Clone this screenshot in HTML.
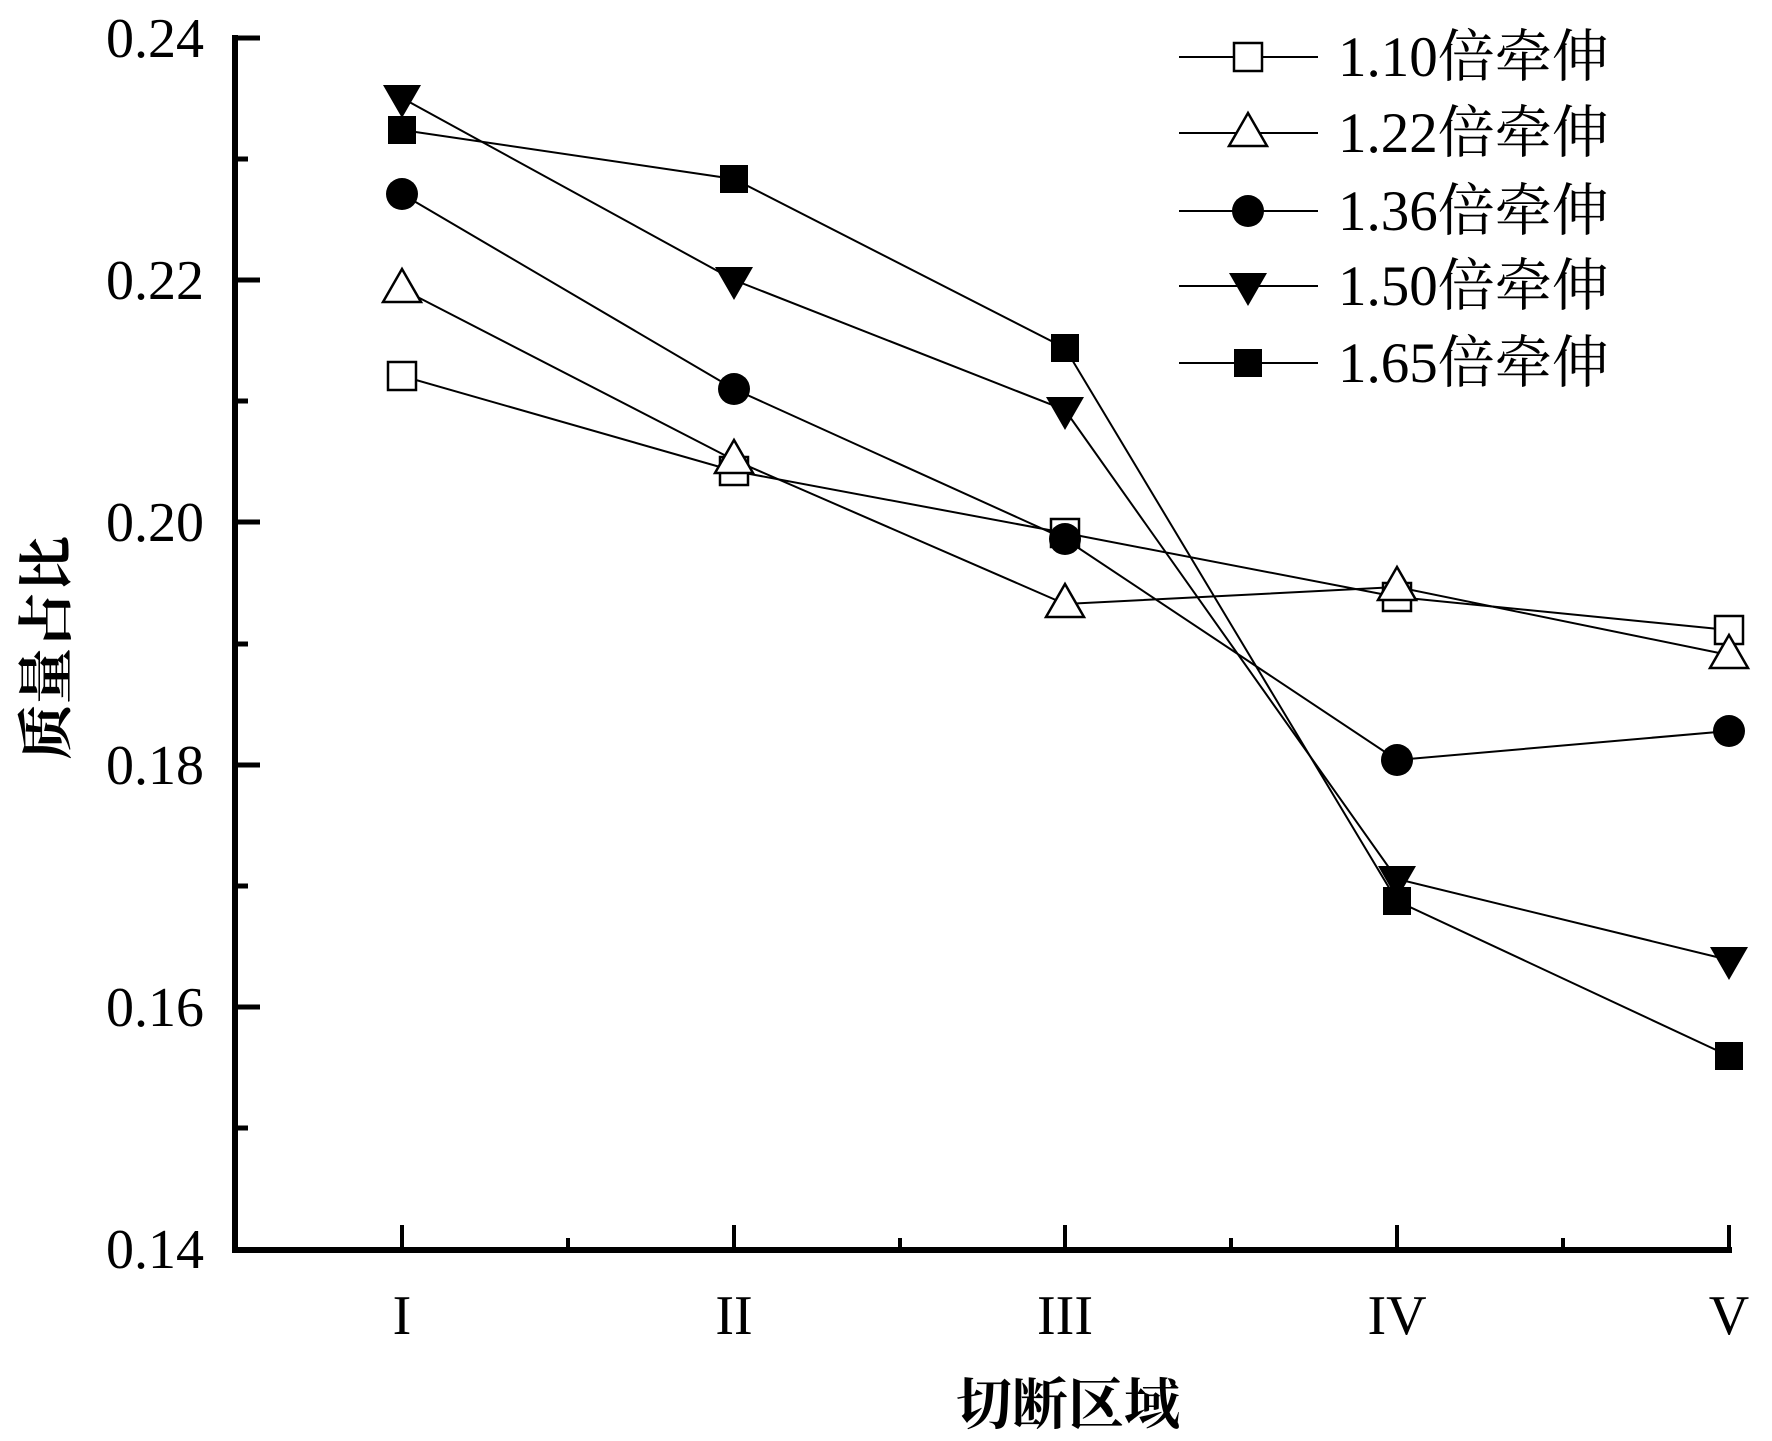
<!DOCTYPE html>
<html><head><meta charset="utf-8"><style>
html,body{margin:0;padding:0;background:#fff}
svg{display:block}
text{font-family:"Liberation Serif","Noto Serif CJK SC",serif;fill:#000}
</style></head><body>
<svg width="1772" height="1441" viewBox="0 0 1772 1441" xmlns="http://www.w3.org/2000/svg">
<defs>
<rect id="sq" x="-14" y="-14" width="28" height="28"/>
<polygon id="tu" points="0,-20 -19,13 19,13"/>
<polygon id="td" points="-19,-13 19,-13 0,20"/>
</defs>
<g stroke="#000" fill="none">
<line x1="235" y1="35" x2="235" y2="1253" stroke-width="6"/>
<line x1="232" y1="1250" x2="1732" y2="1250" stroke-width="6"/>
<g stroke-width="5">
<line x1="235" y1="38" x2="260" y2="38"/>
<line x1="235" y1="280" x2="260" y2="280"/>
<line x1="235" y1="522" x2="260" y2="522"/>
<line x1="235" y1="765" x2="260" y2="765"/>
<line x1="235" y1="1007" x2="260" y2="1007"/>
<line x1="235" y1="159" x2="248" y2="159"/>
<line x1="235" y1="401" x2="248" y2="401"/>
<line x1="235" y1="644" x2="248" y2="644"/>
<line x1="235" y1="886" x2="248" y2="886"/>
<line x1="235" y1="1128" x2="248" y2="1128"/>
</g>
<g stroke-width="4">
<line x1="402" y1="1250" x2="402" y2="1225"/>
<line x1="734" y1="1250" x2="734" y2="1225"/>
<line x1="1065" y1="1250" x2="1065" y2="1225"/>
<line x1="1397" y1="1250" x2="1397" y2="1225"/>
<line x1="1729" y1="1250" x2="1729" y2="1225"/>
<line x1="568" y1="1250" x2="568" y2="1238"/>
<line x1="900" y1="1250" x2="900" y2="1238"/>
<line x1="1231" y1="1250" x2="1231" y2="1238"/>
<line x1="1563" y1="1250" x2="1563" y2="1238"/>
</g>
</g>
<g font-size="56" text-anchor="end">
<text x="204" y="57">0.24</text>
<text x="204" y="299">0.22</text>
<text x="204" y="541">0.20</text>
<text x="204" y="784">0.18</text>
<text x="204" y="1026">0.16</text>
<text x="204" y="1268">0.14</text>
</g>
<g font-size="56" text-anchor="middle">
<text x="402" y="1334">I</text>
<text x="734" y="1334">II</text>
<text x="1065" y="1334">III</text>
<text x="1397" y="1334">IV</text>
<text x="1729" y="1334">V</text>
</g>
<text x="1068" y="1424" font-size="56" font-weight="bold" text-anchor="middle">切断区域</text>
<text transform="translate(66,648) rotate(-90)" font-size="56" font-weight="bold" text-anchor="middle">质量占比</text>
<g stroke="#000" stroke-width="2" fill="none">
<polyline points="402,376 734,471 1065,533 1397,597 1729,630"/>
<polyline points="402,289 734,460 1065,604 1397,587 1729,655"/>
<polyline points="402,194 734,389 1065,539 1397,760 1729,731"/>
<polyline points="402,98 734,280 1065,410 1397,879 1729,960"/>
<polyline points="402,130 734,179 1065,348 1397,901 1729,1056"/>
</g>
<g fill="#fff" stroke="#000" stroke-width="2.5">
<use href="#sq" x="402" y="376"/><use href="#sq" x="734" y="471"/><use href="#sq" x="1065" y="533"/><use href="#sq" x="1397" y="597"/><use href="#sq" x="1729" y="630"/>
<use href="#tu" x="402" y="289"/><use href="#tu" x="734" y="460"/><use href="#tu" x="1065" y="604"/><use href="#tu" x="1397" y="587"/><use href="#tu" x="1729" y="655"/>
</g>
<g fill="#000">
<circle cx="402" cy="194" r="16"/><circle cx="734" cy="389" r="16"/><circle cx="1065" cy="539" r="16"/><circle cx="1397" cy="760" r="16"/><circle cx="1729" cy="731" r="16"/>
<use href="#td" x="402" y="98"/><use href="#td" x="734" y="280"/><use href="#td" x="1065" y="410"/><use href="#td" x="1397" y="879"/><use href="#td" x="1729" y="960"/>
<use href="#sq" x="402" y="130"/><use href="#sq" x="734" y="179"/><use href="#sq" x="1065" y="348"/><use href="#sq" x="1397" y="901"/><use href="#sq" x="1729" y="1056"/>
</g>
<g stroke="#000" stroke-width="2">
<line x1="1179" y1="57" x2="1318" y2="57"/>
<line x1="1179" y1="133" x2="1318" y2="133"/>
<line x1="1179" y1="211" x2="1318" y2="211"/>
<line x1="1179" y1="286" x2="1318" y2="286"/>
<line x1="1179" y1="363" x2="1318" y2="363"/>
</g>
<g fill="#fff" stroke="#000" stroke-width="2.5">
<use href="#sq" x="1248" y="57"/>
<use href="#tu" x="1248" y="133"/>
</g>
<g fill="#000">
<circle cx="1248" cy="211" r="16"/>
<use href="#td" x="1248" y="286"/>
<use href="#sq" x="1248" y="363"/>
</g>
<g font-size="57">
<text x="1338" y="76">1.10倍牵伸</text>
<text x="1338" y="152">1.22倍牵伸</text>
<text x="1338" y="230">1.36倍牵伸</text>
<text x="1338" y="305">1.50倍牵伸</text>
<text x="1338" y="382">1.65倍牵伸</text>
</g>
</svg>
</body></html>
